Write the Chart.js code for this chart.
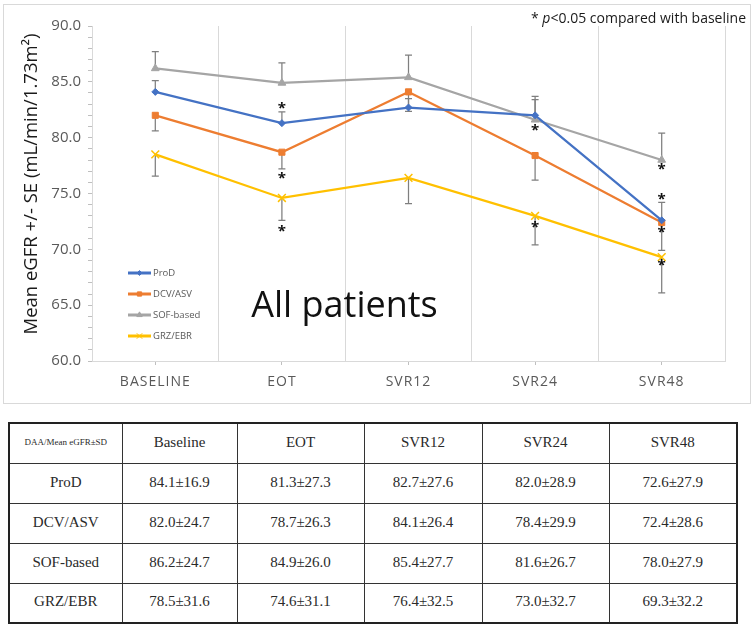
<!DOCTYPE html>
<html>
<head>
<meta charset="utf-8">
<script src="https://cdn.jsdelivr.net/npm/chart.js@4.4.1/dist/chart.umd.min.js"></script>
<style>
  body { margin: 0; background: #fff; width: 754px; height: 629px; position: relative; overflow: hidden; }
  #box { position: absolute; left: 3px; top: 4px; width: 746px; height: 398px; border: 1px solid #d9d9d9; }
  #box canvas { display: block; }
  #tbl { position: absolute; left: 8px; top: 422px; width: 728px; border-collapse: collapse; table-layout: fixed;
         font-family: "Liberation Serif", "Times New Roman", serif; font-size: 15px; font-weight: 400; color: #2a2a2a; border: 2px solid #222; }
  #tbl tr { height: 40px; }
  #tbl td { border: 1.5px solid #333; text-align: center; vertical-align: middle; padding: 0 0 2px 0; font-weight: 400; }
  #tbl td.corner { font-size: 9px; }
</style>
</head>
<body>
<div id="box"><canvas id="chart" width="746" height="398"></canvas></div>
<table id="tbl"></table>
<script>
// categories / series
const categories = ['BASELINE', 'EOT', 'SVR12', 'SVR24', 'SVR48'];
const tableHeaders = ['Baseline', 'EOT', 'SVR12', 'SVR24', 'SVR48'];
const seriesNames = ['ProD', 'DCV/ASV', 'SOF-based', 'GRZ/EBR'];

// mean eGFR
const prodMean = [84.1, 81.3, 82.7, 82.0, 72.6];
const dcvMean  = [82.0, 78.7, 84.1, 78.4, 72.4];
const sofMean  = [86.2, 84.9, 85.4, 81.6, 78.0];
const grzMean  = [78.5, 74.6, 76.4, 73.0, 69.3];

// standard error (bars on chart)
const prodSE = [1.0, 1.0, 0.8, 1.4, 1.6];
const dcvSE  = [1.4, 1.5, 1.75, 2.2, 2.5];
const sofSE  = [1.5, 1.8, 2.0, 2.1, 2.4];
const grzSE  = [1.95, 2.0, 2.3, 2.6, 3.2];

// standard deviation (table)
const prodSD = [16.9, 27.3, 27.6, 28.9, 27.9];
const dcvSD  = [24.7, 26.3, 26.4, 29.9, 28.6];
const sofSD  = [24.7, 26.0, 27.7, 26.7, 27.9];
const grzSD  = [31.6, 31.1, 32.5, 32.7, 32.2];

// significance asterisks: [category index, eGFR value]
const starMarks = [[1, 82.9], [1, 76.6], [1, 71.9], [3, 80.9], [3, 72.2],
                   [4, 77.4], [4, 74.7], [4, 71.8], [4, 68.8]];

// ---- table ----
const means = [prodMean, dcvMean, sofMean, grzMean];
const sds = [prodSD, dcvSD, sofSD, grzSD];
const colW = [113, 115, 127, 118, 127, 128];
let html = '<colgroup>' + colW.map(w => `<col style="width:${w}px">`).join('') + '</colgroup>';
html += '<tr><td class="corner">DAA/Mean eGFR±SD</td>' + tableHeaders.map(h => `<td>${h}</td>`).join('') + '</tr>';
seriesNames.forEach((name, i) => {
  html += `<tr><td>${name}</td>` +
    means[i].map((m, j) => `<td>${m.toFixed(1)}±${sds[i][j].toFixed(1)}</td>`).join('') + '</tr>';
});
document.getElementById('tbl').innerHTML = html;

// ---- chart ----
Chart.defaults.font.family = '"Open Sans", sans-serif';

const errorBars = {
  id: 'errorBars',
  beforeDatasetsDraw(chart) {
    const {ctx} = chart;
    const y = chart.scales.y;
    ctx.save();
    ctx.strokeStyle = '#7f7f7f';
    ctx.lineWidth = 1.25;
    chart.data.datasets.forEach((ds, i) => {
      chart.getDatasetMeta(i).data.forEach((pt, j) => {
        const y0 = y.getPixelForValue(ds.data[j]);
        const y1 = y.getPixelForValue(ds.data[j] + ds.errDir * ds.errSE[j]);
        ctx.beginPath();
        ctx.moveTo(pt.x, y0); ctx.lineTo(pt.x, y1);
        ctx.moveTo(pt.x - 3.5, y1); ctx.lineTo(pt.x + 3.5, y1);
        ctx.stroke();
      });
    });
    ctx.restore();
  }
};

const extras = {
  id: 'extras',
  beforeDraw(chart) {
    // Excel-like spaced category labels
    const sx = chart.scales.x;
    if (!sx._spaced) {
      const orig = sx.drawLabels;
      sx.drawLabels = function (area) {
        chart.ctx.save();
        chart.ctx.letterSpacing = '1px';
        orig.call(this, area);
        chart.ctx.restore();
      };
      sx._spaced = true;
    }
  },
  afterDatasetsDraw(chart) {
    const {ctx} = chart;
    const x = chart.scales.x, y = chart.scales.y;
    // asterisks
    ctx.save();
    ctx.fillStyle = '#111';
    ctx.font = 'bold 15px "Open Sans"';
    ctx.textAlign = 'center';
    const m = ctx.measureText('*');
    const off = (m.actualBoundingBoxAscent - m.actualBoundingBoxDescent) / 2;
    starMarks.forEach(([ci, v]) => {
      ctx.fillText('*', x.getPixelForValue(ci), y.getPixelForValue(v) + off);
    });
    ctx.restore();
  },
  afterDraw(chart) {
    const {ctx} = chart;
    ctx.save();
    // legend
    ctx.font = '9.5px "Open Sans"';
    ctx.textBaseline = 'middle';
    chart.data.datasets.forEach((ds, i) => {
      const ly = 268 + i * 21;
      ctx.strokeStyle = ds.borderColor;
      ctx.lineWidth = 3;
      ctx.beginPath(); ctx.moveTo(124, ly); ctx.lineTo(147, ly); ctx.stroke();
      if (Chart.helpers && Chart.helpers.drawPoint) {
        ctx.fillStyle = ds.borderColor;
        ctx.lineWidth = 1;
        Chart.helpers.drawPoint(ctx, {pointStyle: ds.pointStyle, radius: ds.pointRadius * 0.7, rotation: 0, borderWidth: 1}, 135.5, ly);
      }
      ctx.fillStyle = '#595959';
      ctx.textAlign = 'left';
      ctx.fillText(ds.label, 149, ly + 0.5);
    });
    // big label
    ctx.fillStyle = '#111';
    ctx.font = '36px "Open Sans"';
    ctx.textAlign = 'center';
    ctx.textBaseline = 'alphabetic';
    ctx.fillText('All patients', 340.5, 311.5);
    // axis title
    ctx.save();
    ctx.translate(33, 179);
    ctx.rotate(-Math.PI / 2);
    ctx.font = '18.5px "Open Sans"';
    ctx.fillStyle = '#1a1a1a';
    ctx.fillText('Mean eGFR +/- SE (mL/min/1.73m²)', 0, 0);
    ctx.restore();
    // note
    const parts = [['* ', '14px "Open Sans"'], ['p', 'italic 14px "Open Sans"'], ['<0.05 compared with baseline', '14px "Open Sans"']];
    let total = 0;
    parts.forEach(p => { ctx.font = p[1]; total += ctx.measureText(p[0]).width; });
    let nx = 742 - total;
    ctx.textAlign = 'left';
    ctx.fillStyle = '#1a1a1a';
    parts.forEach(p => { ctx.font = p[1]; ctx.fillText(p[0], nx, 18); nx += ctx.measureText(p[0]).width; });
    ctx.restore();
  }
};

function series(label, data, se, dir, color, style, radius) {
  return {
    label, data, errSE: se, errDir: dir, xAxisID: 'x', yAxisID: 'y',
    borderColor: color, backgroundColor: color,
    pointBackgroundColor: color, pointBorderColor: color,
    pointStyle: style, pointRadius: radius, pointBorderWidth: style === 'crossRot' ? 1.5 : 1,
    borderWidth: 2.25, tension: 0, fill: false
  };
}

new Chart(document.getElementById('chart'), {
  type: 'line',
  data: {
    labels: categories,
    datasets: [
      series(seriesNames[0], prodMean, prodSE, 1, '#4472C4', 'rectRot', 3.5),
      series(seriesNames[1], dcvMean, dcvSE, -1, '#ED7D31', 'rect', 4.3),
      series(seriesNames[2], sofMean, sofSE, 1, '#A5A5A5', 'triangle', 4.5),
      series(seriesNames[3], grzMean, grzSE, -1, '#FFC000', 'crossRot', 5.5)
    ]
  },
  options: {
    responsive: false,
    animation: false,
    layout: { padding: { top: 21, right: 25, left: 0, bottom: 0 } },
    plugins: { legend: { display: false }, tooltip: { enabled: false } },
    scales: {
      x2: {
        type: 'category', axis: 'x', position: 'bottom', offset: true, weight: 0,
        grid: { offset: false, drawOnChartArea: false, tickLength: 4, color: '#bfbfbf' },
        border: { display: false },
        ticks: { display: false },
        afterFit(s) { s.height = 0; }
      },
      x: {
        type: 'category', position: 'bottom', offset: true, weight: 1,
        grid: { offset: true, color: '#d9d9d9', drawTicks: false },
        border: { display: true, color: '#d9d9d9' },
        ticks: { color: '#595959', font: { size: 14 }, padding: 13, maxRotation: 0, autoSkip: false },
        afterFit(s) { s.height = 42; }
      },
      y: {
        type: 'linear', min: 60, max: 90,
        grid: { drawOnChartArea: false, tickLength: 4, color: '#bfbfbf' },
        border: { color: '#d9d9d9' },
        ticks: {
          stepSize: 1, autoSkip: false, padding: 7, color: '#595959', font: { size: 15 },
          callback: v => v % 5 === 0 ? v.toFixed(1) : ''
        },
        afterFit(s) { s.width = 88; }
      }
    }
  },
  plugins: [errorBars, extras]
});
</script>
</body>
</html>
